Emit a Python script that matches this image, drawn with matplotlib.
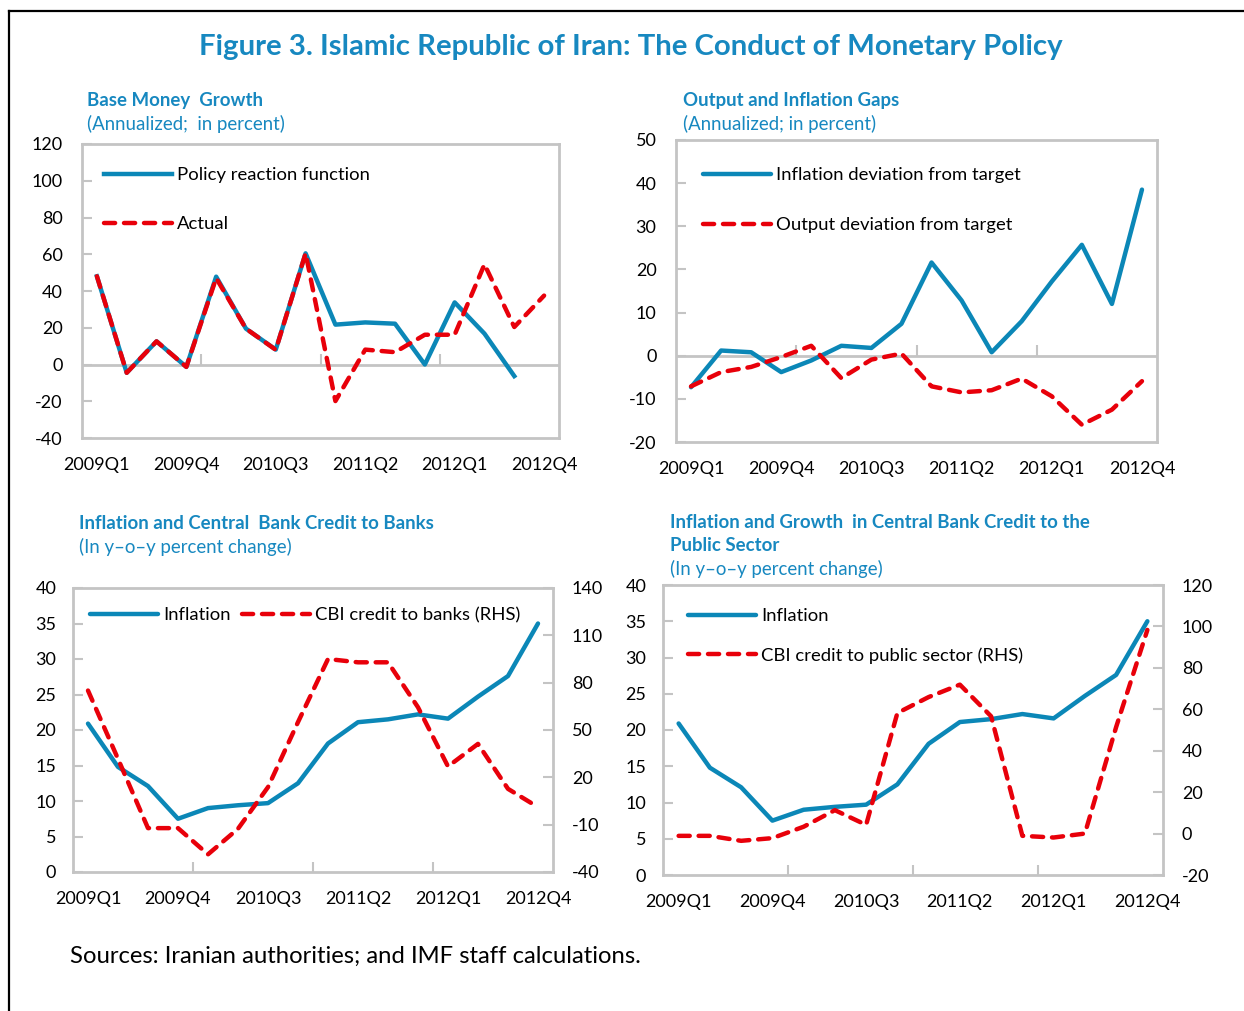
import matplotlib
matplotlib.use("Agg")
import matplotlib.pyplot as plt
from matplotlib.lines import Line2D

plt.rcParams['font.family'] = ['Lato', 'DejaVu Sans']
plt.rcParams['axes.unicode_minus'] = False

# ---------------- data ----------------
quarters = ["2009Q1", "2009Q2", "2009Q3", "2009Q4",
            "2010Q1", "2010Q2", "2010Q3", "2010Q4",
            "2011Q1", "2011Q2", "2011Q3", "2011Q4",
            "2012Q1", "2012Q2", "2012Q3", "2012Q4"]

# Panel 1: Base money growth
policy_reaction = [48, -4.5, 12.6, -1.3, 47.8, 19.5, 8.1, 60.5,
                   21.7, 22.9, 22.2, 0.0, 33.8, 16.8, -6.3, None]
actual_growth = [48, -4.5, 12.6, -1.3, 47.0, 19.5, 8.0, 60.5,
                 -19.9, 8.1, 6.7, 16.2, 16.2, 54.5, 20.4, 37.5]

# Panel 2: Output and inflation gaps
inflation_dev = [-7.3, 1.2, 0.8, -3.8, -1.1, 2.3, 1.8, 7.4,
                 21.6, 12.8, 0.8, 8.0, 17.2, 25.7, 12.0, 38.5]
output_dev = [-7.1, -3.8, -2.6, -0.3, 2.3, -5.2, -0.9, 0.5,
              -7.1, -8.5, -8.0, -5.3, -9.4, -16.0, -12.5, -5.9]

# Panels 3 & 4: Inflation (y-o-y)
inflation = [20.9, 14.8, 12.1, 7.5, 9.0, 9.4, 9.7, 12.5,
             18.1, 21.1, 21.5, 22.2, 21.6, 24.7, 27.6, 35.0]
# Panel 3: CBI credit to banks (RHS)
credit_banks = [75, 31.7, -12.2, -12.2, -28.8, -12.6, 13.8, 55,
                95, 92.9, 92.9, 64.4, 26.9, 41.2, 12.7, 1.1]
# Panel 4: CBI credit to public sector (RHS)
credit_public = [-1.1, -1.1, -3.5, -2.2, 3.3, 11.3, 4.2, 58.2,
                 65.9, 71.9, 56.6, -1.1, -1.9, 0.0, 51.4, 98.3]

# ---------------- style ----------------
W, H = 1244, 1011
BLUE = '#0b87b7'
RED = '#e8000a'
TEAL = '#1788c0'
GRAY = '#c4c4c4'
LW = 3.2
FS = 13
LFS = 13.3

fig = plt.figure(figsize=(W / 100, H / 100), dpi=100)


def rect(l, r, t, b):
    return [l / W, 1 - b / H, (r - l) / W, (b - t) / H]


def fx(x):
    return x / W


def fy(y):
    return 1 - y / H


def style_axes(ax, ylim, yticks, ypad, xpad=13.5):
    n = len(quarters)
    ax.set_xlim(-0.5, n - 0.5)
    ax.set_ylim(*ylim)
    ax.set_yticks(yticks)
    ax.set_xticks(range(0, n, 3))
    ax.set_xticklabels(quarters[::3])
    for s in ax.spines.values():
        s.set_color(GRAY)
        s.set_linewidth(2.0)
    ax.tick_params(axis='x', which='major', length=0, pad=xpad, labelsize=FS)
    ax.tick_params(axis='y', which='major', direction='in', length=7,
                   width=1.5, color=GRAY, pad=ypad, labelsize=FS)
    ax.set_facecolor('white')


def dashed(ax, y, label):
    ln, = ax.plot(range(len(y)), y, color=RED, lw=LW, linestyle=(0, (2.5, 2.0)),
                  dash_capstyle='round', label=label, zorder=4)
    return ln


def solid(ax, y, label):
    ln, = ax.plot(range(len(y)), y, color=BLUE, lw=LW, label=label,
                  solid_capstyle='round', zorder=3)
    return ln


def legend(ax, handles, x, y, ncol=1, spacing=1.9):
    ax.legend(handles=handles, loc='upper left', bbox_to_anchor=(fx(x), fy(y)),
              bbox_transform=fig.transFigure, frameon=False, borderpad=0,
              borderaxespad=0, handlelength=3.7, handletextpad=0.25,
              labelspacing=spacing, fontsize=LFS, ncol=ncol, columnspacing=0.6)


boundaries = [3.5, 7.5, 11.5]

# ---------------- Panel 1 ----------------
ax1 = fig.add_axes(rect(82, 559, 144, 438))
style_axes(ax1, (-40, 120), range(-40, 121, 20), ypad=14)
ax1.axhline(0, color=GRAY, lw=2.0, zorder=1)
ax1.plot(boundaries, [0] * 3, linestyle='none', marker=2, markersize=8,
         mew=1.5, color=GRAY, zorder=1)
x_p = [i for i, v in enumerate(policy_reaction) if v is not None]
y_p = [v for v in policy_reaction if v is not None]
h1, = ax1.plot(x_p, y_p, color=BLUE, lw=LW, label='Policy reaction function', zorder=3)
h2 = dashed(ax1, actual_growth, 'Actual')
legend(ax1, [h1, h2], 104, 167, spacing=1.8)

# ---------------- Panel 2 ----------------
ax2 = fig.add_axes(rect(676, 1157, 140, 442))
style_axes(ax2, (-20, 50), range(-20, 51, 10), ypad=14)
ax2.axhline(0, color=GRAY, lw=2.0, zorder=1)
ax2.plot(boundaries, [0] * 3, linestyle='none', marker=2, markersize=8,
         mew=1.5, color=GRAY, zorder=1)
h1 = solid(ax2, inflation_dev, 'Inflation deviation from target')
h2 = dashed(ax2, output_dev, 'Output deviation from target')
legend(ax2, [h1, h2], 703, 167, spacing=1.85)

# ---------------- Panel 3 ----------------
ax3 = fig.add_axes(rect(73, 553, 588, 872))
style_axes(ax3, (0, 40), range(0, 41, 5), ypad=12)
ax3.set_xticks(boundaries, minor=True)
ax3.tick_params(axis='x', which='minor', direction='in', length=7, width=1.5, color=GRAY)
ax3r = ax3.twinx()
ax3r.set_ylim(-40, 140)
ax3r.set_yticks(range(-40, 141, 30))
for s in ax3r.spines.values():
    s.set_visible(False)
ax3r.tick_params(axis='y', direction='in', length=7, width=1.5, color=GRAY,
                 pad=13.5, labelsize=FS)
h1 = solid(ax3, inflation, 'Inflation')
h2 = dashed(ax3r, credit_banks, 'CBI credit to banks (RHS)')
legend(ax3r, [h1, h2], 90, 607, ncol=2)

# ---------------- Panel 4 ----------------
ax4 = fig.add_axes(rect(663, 1163, 585, 875))
style_axes(ax4, (0, 40), range(0, 41, 5), ypad=12)
ax4.set_xticks(boundaries, minor=True)
ax4.tick_params(axis='x', which='minor', direction='in', length=7, width=1.5, color=GRAY)
ax4r = ax4.twinx()
ax4r.set_ylim(-20, 120)
ax4r.set_yticks(range(-20, 121, 20))
for s in ax4r.spines.values():
    s.set_visible(False)
ax4r.tick_params(axis='y', direction='in', length=7, width=1.5, color=GRAY,
                 pad=13.5, labelsize=FS)
h1 = solid(ax4, inflation, 'Inflation')
h2 = dashed(ax4r, credit_public, 'CBI credit to public sector (RHS)')
legend(ax4r, [h1, h2], 688, 608, spacing=1.25)

# ---------------- texts ----------------
fig.text(fx(631), fy(47.5), 'Figure 3. Islamic Republic of Iran: The Conduct of Monetary Policy',
         ha='center', va='center', fontsize=21.2, fontweight='bold', color=TEAL)


def heading(x, y, s, bold=True):
    fig.text(fx(x), fy(y + 1.5), s, ha='left', va='center', fontsize=13.4,
             fontweight='bold' if bold else 'normal', color=TEAL)


heading(87, 99, 'Base Money  Growth')
heading(87, 122, '(Annualized;  in percent)', bold=False)
heading(683, 99, 'Output and Inflation Gaps')
heading(683, 122, '(Annualized; in percent)', bold=False)
heading(79, 522, 'Inflation and Central  Bank Credit to Banks')
heading(79, 545, '(In y\u2013o\u2013y percent change)', bold=False)
heading(670, 521, 'Inflation and Growth  in Central Bank Credit to the')
heading(670, 544, 'Public Sector')
heading(670, 567, '(In y\u2013o\u2013y percent change)', bold=False)

fig.text(fx(70), fy(956), 'Sources: Iranian authorities; and IMF staff calculations.',
         ha='left', va='center', fontsize=17.2, color='black')

# frame lines (top and left)
fig.add_artist(Line2D([fx(9), fx(9)], [0, fy(11)], color='black', lw=1.6,
                      transform=fig.transFigure))
fig.add_artist(Line2D([fx(9), 1], [fy(11), fy(11)], color='black', lw=1.6,
                      transform=fig.transFigure))

fig.savefig('out.png', dpi=100, facecolor='white')
